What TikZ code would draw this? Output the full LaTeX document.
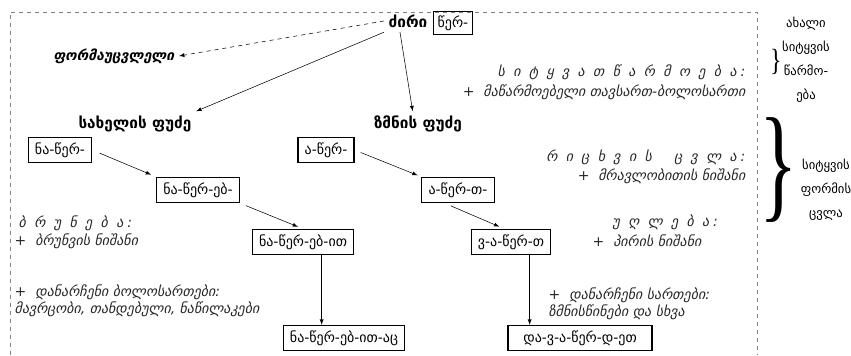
\documentclass[tikz,border=0pt]{standalone}
\usepackage{fontspec}
\setmainfont{DejaVu Sans}
\newfontfamily\spaced{DejaVu Sans}[LetterSpace=28]
\newfontfamily\bracefont{Liberation Serif}
\usetikzlibrary{arrows.meta}
\tikzset{
	wordbox/.style={draw,thick,font=\fontsize{10.5}{12}\selectfont,inner xsep=5pt,minimum height=19pt},
	stemlabel/.style={font=\fontsize{11.5}{13}\selectfont\bfseries},
	notelabel/.style={font=\fontsize{10.5}{13}\selectfont\itshape,text=black!85},
	sidelabel/.style={font=\fontsize{9.5}{11}\selectfont,align=center},
	bracemark/.style={inner sep=0pt,font=\bracefont\fontsize{10}{10}\selectfont}
}
\begin{document}
\begin{tikzpicture}[x=0.75pt,y=-0.75pt]
	\useasboundingbox (0,0) rectangle (851,355);
	% Frame
	\draw [dashed,gray] (10,355) -- (10,12) -- (757,12) -- (757,355);
	% Root
	\node [stemlabel] (root) at (408,21) {ძირი};
	\node [wordbox,minimum width=28pt,minimum height=16pt,inner xsep=3pt] (rootbox) at (453,23) {წერ-};
	\node [stemlabel,font=\fontsize{10.5}{12}\selectfont\bfseries\itshape] (invariant) at (114,56) {ფორმაუცვლელი};
	% Stems
	\node [stemlabel] (nounstem) at (135,124) {სახელის ფუძე};
	\node [stemlabel] (verbstem) at (418,124) {ზმნის ფუძე};
		\draw [dashed,arrows=-latex] (root.west) -- (invariant.east);
		\draw [arrows=-latex] (root.south west) -- (nounstem.north east);
		\draw [arrows=-latex] ([xshift=-6pt]root.south) -- ([xshift=-4pt]verbstem.north);
	% Noun forms
	\node [wordbox] (n1) at (60,150) {ნა-წერ-};
	\node [wordbox] (n2) at (198,190) {ნა-წერ-ებ-};
	\node [wordbox] (n3) at (303,242) {ნა-წერ-ებ-ით};
	\node [wordbox] (n4) at (344,338) {ნა-წერ-ებ-ით-აც};
		\draw [arrows=-latex,shorten <=6pt,shorten >=4pt] (n1.east) -- (n2.north west);
		\draw [arrows=-latex,shorten <=5pt,shorten >=4pt] (n2.south east) -- (n3.north);
		\draw [arrows=-latex] ([xshift=14pt]n3.south) -- ([xshift=14pt]n3.south |- n4.north);
	% Verb forms
	\node [wordbox] (v1) at (326,150) {ა-წერ-};
	\node [wordbox] (v2) at (458,190) {ა-წერ-თ-};
	\node [wordbox] (v3) at (511,242) {ვ-ა-წერ-თ};
	\node [wordbox,minimum width=108pt] (v4) at (580,338) {და-ვ-ა-წერ-დ-ეთ};
		\draw [arrows=-latex,shorten <=5pt,shorten >=3pt] (v1.east) -- (v2.north west);
		\draw [arrows=-latex,shorten <=5pt,shorten >=4pt] ([xshift=-10pt]v2.south) -- ([xshift=-5pt]v3.north);
		\draw [arrows=-latex] ([xshift=14pt]v3.south) -- ([xshift=14pt]v3.south |- v4.north);
	% Notes, word formation
	\node [notelabel,anchor=east] (derivhead) at (750,72) {\spaced ს ი ტ ყ ვ ა თ წ ა რ მ ო ე ბ ა:};
	\node [notelabel,anchor=east] (derivnote) at (750,92) {+ \ მაწარმოებელი თავსართ-ბოლოსართი};
	% Notes, inflection
	\node [notelabel,anchor=east] (numhead) at (750,157) {\spaced რ ი ც ხ ვ ი ს \quad ც ვ ლ ა:};
	\node [notelabel,anchor=east] (numnote) at (750,176) {+ \ მრავლობითის ნიშანი};
	\node [notelabel,anchor=west] (conjhead) at (608,222) {\spaced უ ღ ლ ე ბ ა:};
	\node [notelabel,anchor=west] (conjnote) at (588,241) {+ \ პირის ნიშანი};
	\node [notelabel,anchor=west] (declhead) at (14,223) {\spaced ბ რ უ ნ ე ბ ა:};
	\node [notelabel,anchor=west] (declnote) at (10,241) {+ \ ბრუნვის ნიშანი};
	\node [notelabel,anchor=west,align=left] (nounrest) at (10,301) {+ \ დანარჩენი ბოლოსართები:\\მავრცობი, თანდებული, ნაწილაკები};
	\node [notelabel,anchor=west,align=left] (verbrest) at (544,304) {+ \ დანარჩენი სართები:\\ზმნისწინები და სხვა};
	% Braces
	\node [bracemark,xscale=1.8,yscale=2.3] (smallbrace) at (776,62) {\}};
	\node [sidelabel] (newword) at (806,60) {ახალი\\[7pt]სიტყვის\\[7pt]წარმო-\\[7pt]ება};
	\node [bracemark,xscale=6,yscale=9.5] (bigbrace) at (779,170) {\}};
	\node [sidelabel] (formchange) at (826,190) {სიტყვის\\[7pt]ფორმის\\[7pt]ცვლა};
\end{tikzpicture}
\end{document}
